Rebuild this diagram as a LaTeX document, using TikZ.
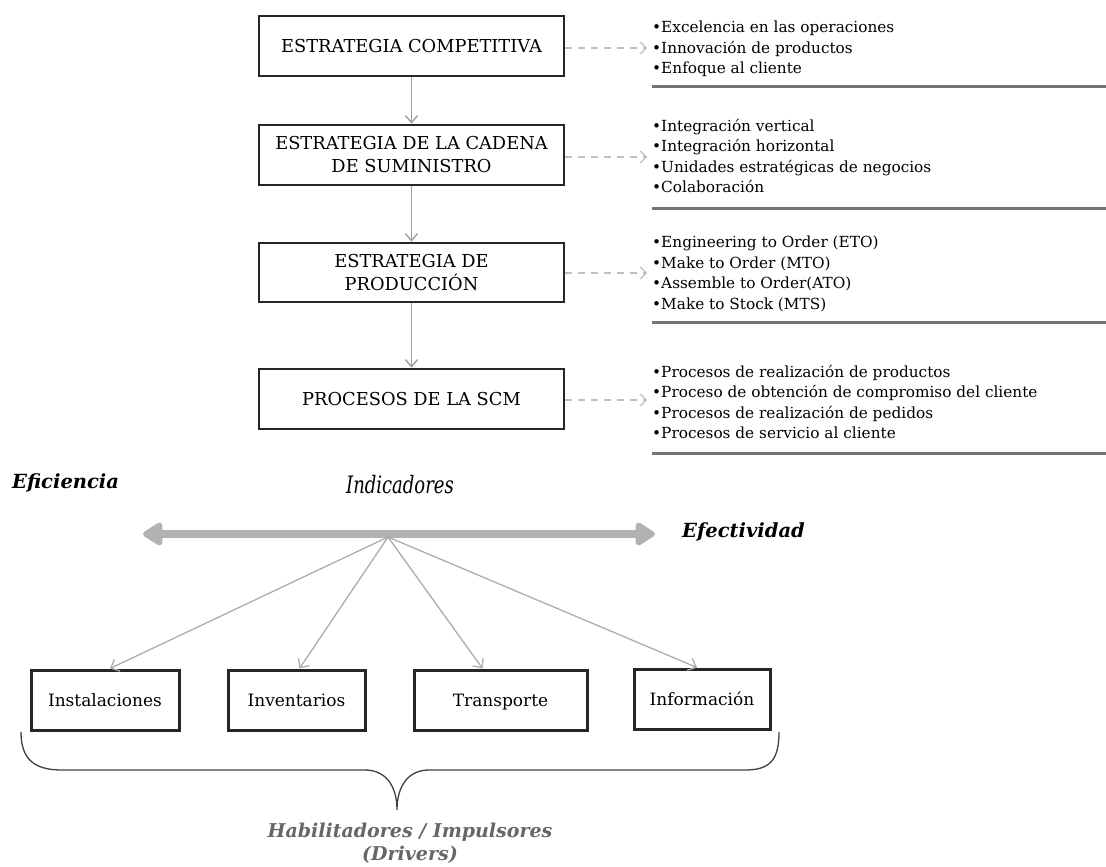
\documentclass[tikz,border=0pt]{standalone}
\usepackage{fontspec}
\setmainfont{DejaVu Serif}
\usetikzlibrary{arrows.meta,shadows,calc}

\tikzset{
  stratbox/.style={draw=black!85, line width=2.6pt, fill=white, minimum width=305pt,
    minimum height=60pt, align=center, inner sep=2pt,
    font=\fontsize{17.8}{23}\selectfont},
  drvbox/.style={draw=black!85, line width=3pt, fill=white, minimum height=60pt,
    inner sep=2pt, text height=14pt, text depth=1.5pt, font=\fontsize{17}{20}\selectfont,
    drop shadow={opacity=0.35, shadow xshift=-1.5pt, shadow yshift=-2pt}},
  flow/.style={draw=gray!75, line width=1.4pt, -{Straight Barb[length=7pt,width=12pt,line width=1.4pt]}},
  hint/.style={draw=gray!50, line width=1.2pt, dash pattern=on 7pt off 6pt,
    -{Straight Barb[length=6pt,width=12pt,line width=1.2pt]}},
  itemlist/.style={anchor=west, align=left, inner sep=0pt,
    font=\fontsize{15.3}{20.5}\selectfont},
  rule/.style={draw=black!55, line width=3pt},
  fan/.style={draw=gray!65, line width=1.3pt, -{Straight Barb[length=7pt,width=13pt,line width=1.3pt]}},
  axis/.style={draw=gray!60, line width=8pt,
    {Triangle[length=22pt,width=26pt,round]}-{Triangle[length=22pt,width=26pt,round]}},
  sidelabel/.style={anchor=west, inner sep=0pt, font=\fontsize{19.5}{22}\selectfont\bfseries\itshape}
}

\begin{document}
\begin{tikzpicture}[x=1pt, y=-1pt]
\useasboundingbox (0,0) rectangle (1106,867);

% strategy chain
\node[stratbox] (c1) at (411.5,46) {ESTRATEGIA COMPETITIVA};
\node[stratbox] (c2) at (411.5,155) {ESTRATEGIA DE LA CADENA\\DE SUMINISTRO};
\node[stratbox, minimum height=59pt] (c3) at (411.5,272.5) {ESTRATEGIA DE\\PRODUCCIÓN};
\node[stratbox] (c4) at (411.5,399) {PROCESOS DE LA SCM};

\draw[flow] (c1) -- (c2);
\draw[flow] (c2) -- (c3);
\draw[flow] (c3) -- (c4);

% detail lists
\node[itemlist] (l1) at (652,49) {•Excelencia en las operaciones\\•Innovación de productos\\•Enfoque al cliente};
\node[itemlist] (l2) at (652,156) {•Integración vertical\\•Integración horizontal\\•Unidades estratégicas de negocios\\•Colaboración};
\node[itemlist] (l3) at (652,274) {•Engineering to Order (ETO)\\•Make to Order (MTO)\\•Assemble to Order(ATO)\\•Make to Stock (MTS)};
\node[itemlist] (l4) at (652,402) {•Procesos de realización de productos\\•Proceso de obtención de compromiso del cliente\\•Procesos de realización de pedidos\\•Procesos de servicio al cliente};

\coordinate (h1) at (647,48);
\coordinate (h2) at (647,157);
\coordinate (h3) at (647,273);
\coordinate (h4) at (647,400);
\draw[hint] (c1.east |- h1) -- (h1);
\draw[hint] (c2.east |- h2) -- (h2);
\draw[hint] (c3.east |- h3) -- (h3);
\draw[hint] (c4.east |- h4) -- (h4);

\draw[rule] (652,87) -- (1106,87);
\draw[rule] (652,208) -- (1106,208);
\draw[rule] (652,322) -- (1106,322);
\draw[rule] (652,453) -- (1106,453);

% indicators axis
\node[sidelabel] (efi) at (12,483) {Eficiencia};
\node[sidelabel] (efe) at (682,532) {Efectividad};
\node[inner sep=0pt, font=\fontsize{24}{26}\selectfont\itshape] (ind) at (400,485) {\scalebox{0.75}[1]{Indicadores}};
\coordinate (axl) at (143,534);
\coordinate (axr) at (655,534);
\draw[axis] (axl) -- (axr);
\coordinate (hub) at (388,537);

% drivers
\node[drvbox, minimum width=148pt] (inst) at (105,700) {Instalaciones};
\node[drvbox, minimum width=137pt] (inv) at (296.5,700) {Inventarios};
\node[drvbox, minimum width=173pt] (tra) at (500.5,700) {Transporte};
\node[drvbox, minimum width=136pt] (info) at (702,699) {Información};

\draw[fan] (hub) -- ([xshift=5pt]inst.north);
\draw[fan] (hub) -- ([xshift=3pt]inv.north);
\draw[fan] (hub) -- ([xshift=-18pt]tra.north);
\draw[fan] (hub) -- ([xshift=-5pt]info.north);

% brace under the drivers
\coordinate (bl) at (21,732);
\coordinate (br) at (779,732);
\coordinate (bt) at (397,810);
\draw[draw=black!75, line width=1.3pt]
  (bl) .. controls (21,760) and (35,770) .. (62,770) -- (365,770)
  .. controls (385,770) and (397,785) .. (bt)
  .. controls (397,785) and (409,770) .. (429,770) -- (745,770)
  .. controls (770,770) and (779,760) .. (br);
\node[align=center, inner sep=0pt, text=black!60,
  font=\fontsize{19}{23}\selectfont\bfseries\itshape] (hab) at (410,843)
  {Habilitadores / Impulsores\\(Drivers)};
\end{tikzpicture}
\end{document}
